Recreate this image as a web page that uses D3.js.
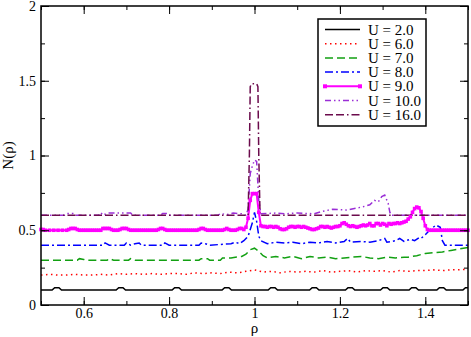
<!DOCTYPE html>
<html>
<head>
<meta charset="utf-8">
<script src="https://cdn.jsdelivr.net/npm/d3@7"></script>
<style>
  body { margin: 0; background: #fff; }
  svg { display: block; }
</style>
</head>
<body>
<div id="chart"></div>
<script>
// values, [rho, N(rho)]
const xTicks = [0.6, 0.8, 1.0, 1.2, 1.4];
const yTicks = [0, 0.5, 1, 1.5, 2];

const seriesU2 = [
  [0.5, 0.1], [0.526, 0.1], [0.532, 0.116], [0.542, 0.116], [0.548, 0.1],
  [0.676, 0.1], [0.682, 0.116], [0.692, 0.116], [0.698, 0.1],
  [0.807, 0.1], [0.813, 0.116], [0.823, 0.116], [0.829, 0.1],
  [0.924, 0.1], [0.930, 0.116], [0.940, 0.116], [0.946, 0.1],
  [1.032, 0.1], [1.038, 0.116], [1.048, 0.116], [1.054, 0.1],
  [1.129, 0.1], [1.135, 0.116], [1.145, 0.116], [1.151, 0.1],
  [1.213, 0.1], [1.219, 0.116], [1.229, 0.116], [1.235, 0.1],
  [1.295, 0.1], [1.301, 0.116], [1.311, 0.116], [1.317, 0.1],
  [1.362, 0.1], [1.368, 0.116], [1.378, 0.116], [1.384, 0.1],
  [1.427, 0.1], [1.433, 0.116], [1.443, 0.116], [1.449, 0.1],
  [1.488, 0.1], [1.494, 0.116], [1.5, 0.116]
];

const seriesU6 = [
  [0.5, 0.2], [0.52, 0.205], [0.54, 0.2], [0.56, 0.2], [0.58, 0.205], [0.6, 0.2],
  [0.62, 0.2], [0.64, 0.205], [0.66, 0.2], [0.68, 0.21], [0.7, 0.205], [0.72, 0.21],
  [0.74, 0.205], [0.76, 0.21], [0.78, 0.205], [0.8, 0.21], [0.82, 0.21], [0.84, 0.205],
  [0.86, 0.215], [0.88, 0.21], [0.9, 0.215], [0.92, 0.21], [0.94, 0.22], [0.96, 0.215],
  [0.98, 0.225], [1.0, 0.235], [1.02, 0.22], [1.04, 0.225], [1.06, 0.215], [1.08, 0.225],
  [1.1, 0.22], [1.12, 0.225], [1.14, 0.22], [1.16, 0.23], [1.18, 0.22], [1.2, 0.225],
  [1.22, 0.23], [1.24, 0.22], [1.26, 0.23], [1.28, 0.225], [1.3, 0.23], [1.32, 0.22],
  [1.34, 0.23], [1.36, 0.225], [1.38, 0.23], [1.4, 0.23], [1.42, 0.235], [1.44, 0.23],
  [1.46, 0.235], [1.48, 0.235], [1.5, 0.24]
];

const seriesU7 = [
  [0.5, 0.3], [0.585, 0.3], [0.59, 0.31], [0.6, 0.305], [0.605, 0.3], [0.655, 0.3],
  [0.66, 0.31], [0.67, 0.3], [0.705, 0.3], [0.71, 0.31], [0.72, 0.3], [0.87, 0.3],
  [0.875, 0.31], [0.89, 0.31], [0.895, 0.3], [0.92, 0.3], [0.925, 0.315], [0.945, 0.315],
  [0.955, 0.32], [0.97, 0.325], [0.98, 0.34], [0.99, 0.37], [1.0, 0.38], [1.01, 0.36],
  [1.02, 0.33], [1.03, 0.315], [1.05, 0.325], [1.07, 0.315], [1.09, 0.325], [1.11, 0.31],
  [1.13, 0.325], [1.15, 0.315], [1.17, 0.32], [1.19, 0.31], [1.21, 0.315], [1.23, 0.32],
  [1.25, 0.325], [1.27, 0.315], [1.29, 0.31], [1.31, 0.32], [1.33, 0.315], [1.35, 0.32],
  [1.36, 0.32], [1.38, 0.33], [1.4, 0.345], [1.42, 0.35], [1.44, 0.355], [1.46, 0.365],
  [1.48, 0.375], [1.5, 0.385]
];

const seriesU8 = [
  [0.5, 0.4], [0.645, 0.4], [0.65, 0.415], [0.66, 0.4], [0.695, 0.4], [0.7, 0.415],
  [0.71, 0.4], [0.72, 0.41], [0.73, 0.415], [0.735, 0.4], [0.785, 0.4], [0.79, 0.415],
  [0.8, 0.4], [0.87, 0.4], [0.875, 0.415], [0.885, 0.41], [0.895, 0.4], [0.945, 0.41],
  [0.955, 0.42], [0.965, 0.41], [0.975, 0.43], [0.985, 0.46], [0.995, 0.55], [1.0, 0.62],
  [1.005, 0.56], [1.01, 0.46], [1.015, 0.43], [1.03, 0.41], [1.05, 0.42], [1.07, 0.415],
  [1.09, 0.42], [1.11, 0.41], [1.13, 0.42], [1.15, 0.415], [1.17, 0.425], [1.19, 0.415],
  [1.21, 0.425], [1.218, 0.445], [1.225, 0.42], [1.25, 0.425], [1.27, 0.42], [1.29, 0.43],
  [1.305, 0.445], [1.31, 0.42], [1.33, 0.43], [1.34, 0.445], [1.35, 0.425], [1.365, 0.44],
  [1.375, 0.43], [1.385, 0.45], [1.39, 0.445], [1.4, 0.47], [1.41, 0.5], [1.425, 0.535],
  [1.435, 0.52], [1.44, 0.43], [1.446, 0.4], [1.5, 0.4]
];

const seriesU9 = [
  [0.500, 0.505], [0.505, 0.505], [0.510, 0.5], [0.520, 0.5], [0.530, 0.5], [0.540, 0.5],
  [0.550, 0.5], [0.560, 0.5], [0.565, 0.505], [0.570, 0.512], [0.575, 0.512], [0.580, 0.512],
  [0.585, 0.505], [0.590, 0.5], [0.595, 0.5], [0.600, 0.5], [0.605, 0.5], [0.610, 0.5],
  [0.615, 0.5], [0.620, 0.5], [0.625, 0.5], [0.630, 0.5], [0.635, 0.5], [0.640, 0.5],
  [0.645, 0.512], [0.650, 0.512], [0.655, 0.512], [0.660, 0.512], [0.665, 0.505], [0.670, 0.5],
  [0.675, 0.5], [0.680, 0.5], [0.685, 0.505], [0.690, 0.512], [0.695, 0.512], [0.700, 0.512],
  [0.705, 0.505], [0.710, 0.5], [0.715, 0.5], [0.720, 0.5], [0.725, 0.5], [0.730, 0.5],
  [0.735, 0.5], [0.740, 0.5], [0.745, 0.5], [0.750, 0.5], [0.755, 0.5], [0.760, 0.5],
  [0.765, 0.5], [0.770, 0.5], [0.775, 0.505], [0.780, 0.512], [0.785, 0.512], [0.790, 0.505],
  [0.795, 0.5], [0.800, 0.5], [0.805, 0.5], [0.810, 0.5], [0.815, 0.5], [0.820, 0.5],
  [0.825, 0.5], [0.830, 0.5], [0.835, 0.5], [0.840, 0.5], [0.845, 0.5], [0.850, 0.5],
  [0.855, 0.5], [0.860, 0.5], [0.865, 0.5], [0.870, 0.505], [0.875, 0.512], [0.880, 0.512],
  [0.885, 0.505], [0.890, 0.5], [0.895, 0.5], [0.900, 0.5], [0.905, 0.5], [0.910, 0.5],
  [0.915, 0.5], [0.920, 0.5], [0.925, 0.5], [0.930, 0.505], [0.935, 0.512], [0.940, 0.505],
  [0.945, 0.5], [0.950, 0.5], [0.955, 0.5], [0.960, 0.505], [0.965, 0.512], [0.970, 0.512],
  [0.975, 0.505], [0.980, 0.52], [0.985, 0.58], [0.990, 0.7], [0.995, 0.745], [1.000, 0.745],
  [1.005, 0.745], [1.010, 0.62], [1.015, 0.53], [1.020, 0.525], [1.025, 0.525], [1.030, 0.52],
  [1.035, 0.525], [1.040, 0.525], [1.045, 0.52], [1.050, 0.525], [1.055, 0.52], [1.060, 0.51],
  [1.065, 0.505], [1.070, 0.505], [1.075, 0.51], [1.080, 0.52], [1.085, 0.525], [1.090, 0.525],
  [1.095, 0.52], [1.100, 0.525], [1.105, 0.525], [1.110, 0.52], [1.115, 0.525], [1.120, 0.52],
  [1.125, 0.515], [1.130, 0.51], [1.135, 0.505], [1.140, 0.505], [1.145, 0.51], [1.150, 0.515],
  [1.155, 0.525], [1.160, 0.525], [1.165, 0.52], [1.170, 0.525], [1.175, 0.52], [1.180, 0.515],
  [1.185, 0.52], [1.190, 0.525], [1.195, 0.525], [1.200, 0.53], [1.205, 0.545], [1.210, 0.55],
  [1.215, 0.54], [1.220, 0.53], [1.225, 0.525], [1.230, 0.53], [1.235, 0.525], [1.240, 0.52],
  [1.245, 0.525], [1.250, 0.53], [1.255, 0.535], [1.260, 0.53], [1.265, 0.535], [1.270, 0.545],
  [1.275, 0.53], [1.280, 0.53], [1.285, 0.545], [1.290, 0.545], [1.295, 0.535], [1.300, 0.545],
  [1.305, 0.54], [1.310, 0.53], [1.315, 0.545], [1.320, 0.54], [1.325, 0.545], [1.330, 0.545],
  [1.335, 0.55], [1.340, 0.545], [1.345, 0.55], [1.350, 0.555], [1.355, 0.56], [1.360, 0.575],
  [1.365, 0.59], [1.370, 0.62], [1.375, 0.645], [1.380, 0.655], [1.385, 0.65], [1.390, 0.625],
  [1.395, 0.58], [1.400, 0.53], [1.405, 0.505], [1.410, 0.5], [1.415, 0.5], [1.420, 0.5],
  [1.425, 0.5], [1.430, 0.5], [1.435, 0.5], [1.440, 0.5], [1.445, 0.5], [1.450, 0.5],
  [1.455, 0.5], [1.460, 0.5], [1.465, 0.5], [1.470, 0.5], [1.475, 0.5], [1.480, 0.5],
  [1.485, 0.5], [1.490, 0.5], [1.495, 0.5], [1.500, 0.5]
];

const seriesU10 = [
  [0.5, 0.6], [0.555, 0.6], [0.56, 0.612], [0.575, 0.612], [0.58, 0.6], [0.635, 0.6],
  [0.64, 0.618], [0.645, 0.6], [0.655, 0.615], [0.71, 0.615], [0.715, 0.6], [0.78, 0.6],
  [0.785, 0.612], [0.795, 0.612], [0.8, 0.6], [0.915, 0.6], [0.92, 0.612], [0.935, 0.605],
  [0.95, 0.615], [0.97, 0.61], [0.98, 0.6], [0.985, 0.64], [0.99, 0.88], [0.995, 0.93],
  [1.0, 0.97], [1.005, 0.96], [1.01, 0.7], [1.015, 0.61], [1.05, 0.615], [1.07, 0.61],
  [1.1, 0.615], [1.14, 0.61], [1.155, 0.624], [1.183, 0.64], [1.216, 0.635], [1.254, 0.657],
  [1.27, 0.67], [1.281, 0.7], [1.29, 0.69], [1.298, 0.725], [1.305, 0.735], [1.313, 0.68],
  [1.317, 0.62], [1.32, 0.6], [1.5, 0.6]
];

const seriesU16 = [
  [0.5, 0.6], [0.985, 0.6], [0.988, 1.0], [0.99, 1.46], [0.993, 1.48], [1.005, 1.48],
  [1.008, 1.46], [1.01, 1.0], [1.013, 0.6], [1.5, 0.6]
];

const labels = ["U = 2.0", "U = 6.0", "U = 7.0", "U = 8.0", "U = 9.0", "U = 10.0", "U = 16.0"];
const allSeries = [seriesU2, seriesU6, seriesU7, seriesU8, seriesU9, seriesU10, seriesU16];
const colors = ["#000000", "#ff0000", "#12a012", "#0000ff", "#ff00ff", "#9a2ed6", "#6b0b4c"];
const dashes = [null, "1.5,3.5", "8,4", "8,3,2,3", null, "6,3,1.5,3,1.5,3", "8,3,8,3,1.5,3"];
const widths = [1.5, 1.5, 1.5, 1.5, 2, 1.5, 1.5];

const FONT = "'Liberation Serif', 'Times New Roman', 'DejaVu Serif', serif";
const W = 471, H = 337;
const margin = { left: 41, right: 3, top: 6, bottom: 32 };

const svg = d3.select("#chart").append("svg").attr("width", W).attr("height", H);

const x = d3.scaleLinear().domain([0.5, 1.5]).range([margin.left, W - margin.right]);
const y = d3.scaleLinear().domain([0, 2]).range([H - margin.bottom, margin.top]);

const line = d3.line().x((d) => x(d[0])).y((d) => y(d[1]));

// lines
allSeries.forEach((s, i) => {
  svg.append("path")
    .datum(s)
    .attr("d", line)
    .attr("fill", "none")
    .attr("stroke", colors[i])
    .attr("stroke-width", widths[i])
    .attr("stroke-dasharray", dashes[i]);
});

// square markers on U = 9.0
svg.append("g")
  .selectAll("rect")
  .data(seriesU9)
  .enter()
  .append("rect")
  .attr("x", (d) => x(d[0]) - 1.8)
  .attr("y", (d) => y(d[1]) - 1.8)
  .attr("width", 3.6)
  .attr("height", 3.6)
  .attr("fill", colors[4]);

// axes, ticks inward on all four sides
const xMinor = d3.range(0.5, 1.51, 0.1);
const yMinor = d3.range(0, 2.01, 0.25);

function tickStyle(g) {
  g.select(".domain").remove();
  g.attr("font-family", FONT).attr("font-size", 14);
  g.selectAll("line").attr("stroke", "#000").attr("stroke-width", 1);
  g.selectAll("text").style("font-family", FONT).style("font-size", "14px").attr("fill", "#000");
}

svg.append("g")
  .attr("transform", `translate(0,${y(0)})`)
  .call(d3.axisBottom(x).tickValues(xMinor).tickSize(-4).tickFormat(""))
  .call(tickStyle);
svg.append("g")
  .attr("transform", `translate(0,${y(0)})`)
  .call(d3.axisBottom(x).tickValues(xTicks).tickSize(-8).tickPadding(3).tickFormat(d3.format("~g")))
  .call(tickStyle);
svg.append("g")
  .attr("transform", `translate(0,${y(2)})`)
  .call(d3.axisTop(x).tickValues(xMinor).tickSize(-4).tickFormat(""))
  .call(tickStyle);
svg.append("g")
  .attr("transform", `translate(0,${y(2)})`)
  .call(d3.axisTop(x).tickValues(xTicks).tickSize(-8).tickFormat(""))
  .call(tickStyle);

svg.append("g")
  .attr("transform", `translate(${x(0.5)},0)`)
  .call(d3.axisLeft(y).tickValues(yMinor).tickSize(-4).tickFormat(""))
  .call(tickStyle);
svg.append("g")
  .attr("transform", `translate(${x(0.5)},0)`)
  .call(d3.axisLeft(y).tickValues(yTicks).tickSize(-8).tickPadding(5).tickFormat(d3.format("~g")))
  .call(tickStyle);
svg.append("g")
  .attr("transform", `translate(${x(1.5)},0)`)
  .call(d3.axisRight(y).tickValues(yMinor).tickSize(-4).tickFormat(""))
  .call(tickStyle);
svg.append("g")
  .attr("transform", `translate(${x(1.5)},0)`)
  .call(d3.axisRight(y).tickValues(yTicks).tickSize(-8).tickFormat(""))
  .call(tickStyle);

// frame
svg.append("rect")
  .attr("x", x(0.5))
  .attr("y", y(2))
  .attr("width", x(1.5) - x(0.5))
  .attr("height", y(0) - y(2))
  .attr("fill", "none")
  .attr("stroke", "#000")
  .attr("stroke-width", 1.5);

// axis titles
svg.append("text")
  .attr("x", (x(0.5) + x(1.5)) / 2)
  .attr("y", 333)
  .attr("text-anchor", "middle")
  .style("font-family", FONT)
  .style("font-size", "15px")
  .text("ρ");
svg.append("text")
  .attr("transform", `translate(13,${y(1)}) rotate(-90)`)
  .attr("text-anchor", "middle")
  .style("font-family", FONT)
  .style("font-size", "15px")
  .text("N(ρ)");

// legend
const legend = svg.append("g");
legend.append("rect")
  .attr("x", 318).attr("y", 19).attr("width", 108).attr("height", 107)
  .attr("fill", "#fff").attr("stroke", "#000").attr("stroke-width", 1.5);

labels.forEach((lab, i) => {
  const ly = 29.5 + i * 14.2;
  legend.append("line")
    .attr("x1", 325).attr("x2", 360).attr("y1", ly).attr("y2", ly)
    .attr("stroke", colors[i])
    .attr("stroke-width", widths[i])
    .attr("stroke-dasharray", dashes[i]);
  if (i === 4) {
    [325, 360].forEach((mx) => {
      legend.append("rect")
        .attr("x", mx - 2).attr("y", ly - 2).attr("width", 4).attr("height", 4)
        .attr("fill", colors[i]);
    });
  }
  legend.append("text")
    .attr("x", 368)
    .attr("y", ly + 5)
    .style("font-family", FONT)
    .style("font-size", "15px")
    .text(lab);
});
</script>
</body>
</html>
